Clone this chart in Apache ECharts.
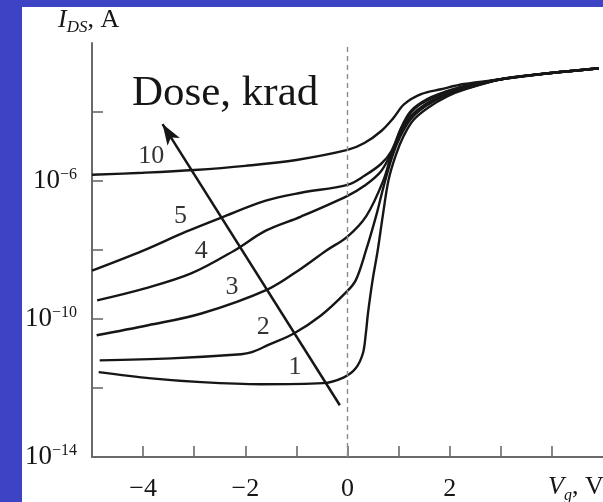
<!DOCTYPE html>
<html><head><meta charset="utf-8">
<script src="https://cdn.jsdelivr.net/npm/echarts@6/dist/echarts.min.js"></script>
<style>
html,body{margin:0;padding:0;width:603px;height:502px;background:#3c43c4;overflow:hidden;}
#c{position:absolute;left:22px;top:7px;width:581px;height:495px;background:#fff;}
</style></head><body><div id="c"></div>
<script>
// ---- Data (Vg in volts, log10 of I_DS in amperes) ----
const xTickValues = [-4, -3, -2, -1, 0, 1, 2, 3, 4];
const xLabelValues = [-4, -2, 0, 2];
const yTickValues = [-12, -10, -8, -6, -4];
const yLabelValues = [-14, -10, -6];

const doseNames = ['1', '2', '3', '4', '5', '10'];

const vg1 = [-4.87, -3.84, -2.86, -1.69, -0.48, -0.07, 0.16, 0.30, 0.36, 0.40, 0.49, 0.59, 0.69, 0.80, 0.94, 1.10, 1.29, 1.59, 1.96, 2.27, 3.00, 3.98, 4.92];
const logI1 = [-11.54, -11.72, -11.83, -11.89, -11.86, -11.69, -11.43, -11.00, -10.40, -9.84, -8.88, -8.02, -7.01, -5.99, -5.27, -4.69, -4.23, -3.86, -3.54, -3.36, -3.05, -2.87, -2.73];

const vg2 = [-4.85, -3.45, -2.08, -1.89, -1.56, -1.05, -0.52, -0.03, 0.16, 0.36, 0.56, 0.71, 0.88, 1.04, 1.24, 1.53, 1.92, 2.27, 3.00, 3.98, 4.92];
const logI2 = [-11.20, -11.14, -11.02, -10.97, -10.76, -10.42, -9.90, -9.23, -8.88, -8.02, -7.01, -6.14, -5.27, -4.69, -4.20, -3.83, -3.51, -3.34, -3.05, -2.87, -2.73];

const vg3 = [-4.91, -3.90, -2.86, -1.56, -0.91, -0.42, 0.00, 0.37, 0.70, 0.88, 1.05, 1.24, 1.53, 1.92, 2.27, 3.00, 3.98, 4.92];
const logI3 = [-10.47, -10.18, -9.84, -9.14, -8.54, -8.02, -7.61, -7.01, -5.99, -5.13, -4.55, -4.12, -3.77, -3.48, -3.31, -3.05, -2.87, -2.73];

const vg4 = [-4.90, -3.98, -3.06, -2.22, -1.60, -0.91, 0.00, 0.33, 0.66, 0.90, 1.09, 1.31, 1.62, 2.27, 3.00, 3.98, 4.92];
const logI4 = [-9.46, -9.12, -8.68, -8.02, -7.44, -7.03, -6.43, -6.14, -5.71, -5.04, -4.35, -3.91, -3.62, -3.28, -3.05, -2.87, -2.73];

const vg5 = [-5.00, -4.00, -3.16, -2.47, -1.60, -0.91, 0.00, 0.33, 0.66, 0.86, 1.05, 1.24, 1.57, 1.96, 2.27, 3.00, 3.98, 4.92];
const logI5 = [-8.60, -8.02, -7.47, -7.06, -6.57, -6.34, -6.11, -5.85, -5.50, -5.13, -4.46, -3.97, -3.62, -3.39, -3.25, -3.05, -2.87, -2.73];

const vg10 = [-5.00, -4.00, -3.00, -2.00, -1.00, 0.00, 0.33, 0.66, 0.90, 1.11, 1.44, 1.83, 2.28, 3.00, 3.98, 4.92];
const logI10 = [-5.82, -5.76, -5.68, -5.56, -5.39, -5.10, -4.90, -4.55, -4.17, -3.77, -3.48, -3.34, -3.19, -3.05, -2.87, -2.73];

// curve label anchors (data coordinates)
const labelVg = [-1.03, -1.65, -2.26, -2.86, -3.27, -3.84];
const labelLogI = [-11.40, -10.24, -9.09, -8.02, -7.03, -5.27];

// dose arrow (tail, tip) in data coordinates
const arrowVg = [-0.15, -3.62];
const arrowLogI = [-12.50, -4.35];

// ---- Chart ----
const FONT = '"Liberation Serif","Times New Roman",serif';
const INK = '#161616';
const AXIS = '#6a6a6a';

const vgList = [vg1, vg2, vg3, vg4, vg5, vg10];
const iList = [logI1, logI2, logI3, logI4, logI5, logI10];
function pairs(xs, ys) { return xs.map((x, i) => [x, ys[i]]); }
function minusText(v) { return v < 0 ? '\u2212' + Math.abs(v) : String(v); }

const series = doseNames.map((name, k) => ({
  name: 'Dose ' + name,
  type: 'line',
  data: pairs(vgList[k], iList[k]),
  smooth: 0.35,
  symbol: 'none',
  silent: true,
  lineStyle: { color: INK, width: 2.4 },
  z: 3
}));

series.push({
  type: 'line', data: [], silent: true, z: 1,
  markLine: {
    silent: true, symbol: 'none', animation: false,
    label: { show: false },
    lineStyle: { type: [5, 4], color: '#8c8c8c', width: 1.4 },
    data: [{ xAxis: 0 }]
  }
});

series.push({
  type: 'line', data: [], silent: true, z: 4,
  markLine: {
    silent: true, animation: false,
    symbol: ['none', 'arrow'], symbolSize: [11, 21],
    label: { show: false },
    itemStyle: { color: INK },
    lineStyle: { type: 'solid', color: INK, width: 2.5 },
    data: [[{ coord: [arrowVg[0], arrowLogI[0]] }, { coord: [arrowVg[1], arrowLogI[1]] }]]
  }
});

series.push({
  type: 'scatter', silent: true, z: 5,
  symbolSize: 0,
  itemStyle: { color: INK },
  data: labelVg.map((x, i) => [x, labelLogI[i]]),
  label: {
    show: true, position: 'inside',
    formatter: p => doseNames[p.dataIndex],
    fontFamily: FONT, fontSize: 26, color: '#000', textBorderWidth: 0
  }
});

const chart = echarts.init(document.getElementById('c'), null, { renderer: 'canvas' });
chart.setOption({
  animation: false,
  backgroundColor: '#ffffff',
  grid: { left: 68, top: 36, right: 0, bottom: 45, containLabel: false },
  xAxis: {
    type: 'value', min: -5, max: 5, interval: 1,
    axisLine: { show: true, onZero: false, lineStyle: { color: AXIS, width: 2 } },
    axisTick: { show: true, inside: true, length: 11, customValues: xTickValues, lineStyle: { color: AXIS, width: 1.6 } },
    axisLabel: { customValues: xLabelValues, formatter: minusText, fontFamily: FONT, fontSize: 26, color: INK, margin: 19 },
    splitLine: { show: false }
  },
  yAxis: {
    type: 'value', min: -14, max: -2, interval: 2,
    axisLine: { show: true, onZero: false, lineStyle: { color: AXIS, width: 2 } },
    axisTick: { show: true, inside: true, length: 11, customValues: yTickValues, lineStyle: { color: AXIS, width: 1.6 } },
    axisLabel: {
      customValues: yLabelValues, margin: 15,
      formatter: v => '{b|10}{s|\u2212' + Math.abs(v) + '}',
      rich: {
        b: { fontFamily: FONT, fontSize: 27, color: INK, lineHeight: 28 },
        s: { fontFamily: FONT, fontSize: 16, color: INK, lineHeight: 16, verticalAlign: 'top' }
      }
    },
    splitLine: { show: false }
  },
  graphic: [
    {
      type: 'text', x: 36, y: 13, silent: true,
      style: {
        text: '{i|I}{s|DS}{n|, A}', align: 'left', verticalAlign: 'middle',
        rich: {
          i: { fontFamily: FONT, fontStyle: 'italic', fontSize: 26, fill: INK, lineHeight: 32 },
          s: { fontFamily: FONT, fontStyle: 'italic', fontSize: 17, fill: INK, lineHeight: 17, verticalAlign: 'bottom' },
          n: { fontFamily: FONT, fontSize: 26, fill: INK, lineHeight: 32 }
        }
      }
    },
    {
      type: 'text', x: 526, y: 480, silent: true,
      style: {
        text: '{v|V}{s|g}{n|, V}', align: 'left', verticalAlign: 'middle',
        rich: {
          v: { fontFamily: FONT, fontStyle: 'italic', fontSize: 26, fill: INK, lineHeight: 34 },
          s: { fontFamily: FONT, fontStyle: 'italic', fontSize: 16, fill: INK, lineHeight: 16, verticalAlign: 'bottom' },
          n: { fontFamily: FONT, fontSize: 26, fill: INK, lineHeight: 34 }
        }
      }
    },
    {
      type: 'text', x: 110, y: 87, silent: true,
      style: { text: 'Dose, krad', fontFamily: FONT, fontSize: 43, fill: INK, align: 'left', verticalAlign: 'middle' }
    }
  ],
  series: series
});
</script></body></html>
